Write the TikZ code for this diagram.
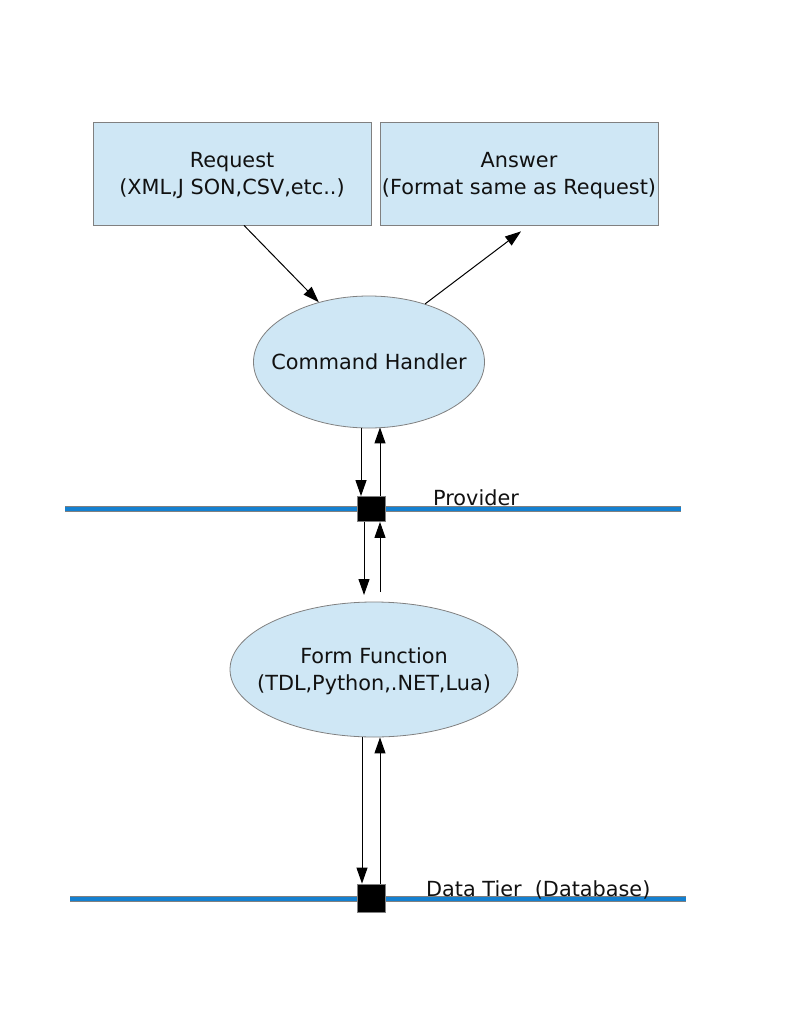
\documentclass[tikz,border=0pt]{standalone}
\usepackage{fontspec}
\setmainfont{DejaVu Sans}
\usetikzlibrary{shapes.geometric,arrows.meta}
\definecolor{boxfill}{HTML}{CFE7F5}
\definecolor{boxline}{HTML}{808080}
\definecolor{busblue}{HTML}{1480D0}
\definecolor{txt}{HTML}{111111}
\tikzset{
  rectbox/.style={draw=boxline, fill=boxfill, line width=0.8pt, minimum width=278pt, minimum height=103pt, inner sep=0pt},
  ellbox/.style={ellipse, draw=boxline, fill=boxfill, line width=0.8pt, inner sep=0pt},
  ctext/.style={text=txt, align=center, inner sep=0pt},
  arr/.style={line width=1pt, -{Triangle[length=16pt,width=11pt]}},
  busout/.style={line width=5.5pt, draw=boxline},
  busin/.style={line width=3.6pt, draw=busblue},
  sqbox/.style={draw=boxline, fill=black, line width=0.8pt, minimum width=28pt, inner sep=0pt},
  lbl/.style={text=txt, inner sep=0pt}
}
\begin{document}
\begin{tikzpicture}[x=1pt,y=-1pt]
\useasboundingbox (0,0) rectangle (800,1035);
\fontsize{20.8}{27}\selectfont
% boxes
\node[rectbox, label={[ctext, yshift=-2pt]center:Request\\(XML,J SON,CSV,etc..)}] (req) at (232,173.5) {};
\node[rectbox, label={[ctext, yshift=-2pt]center:Answer\\(Format same as Request)}] (ans) at (519,173.5) {};
\node[ellbox, minimum width=231pt, minimum height=132pt,
  label={[ctext]center:Command Handler}] (ch) at (369,362) {};
\node[ellbox, minimum width=288pt, minimum height=135pt,
  label={[ctext, yshift=-2pt]center:Form Function\\(TDL,Python,.NET,Lua)}] (ff) at (374,669.5) {};
% buses
\coordinate (p1) at (65,509);
\coordinate (p2) at (681,509);
\coordinate (d1) at (70,899);
\coordinate (d2) at (686,899);
\draw[busout] (p1) -- (p2);
\draw[busin] (p1) -- (p2);
\draw[busout] (d1) -- (d2);
\draw[busin] (d1) -- (d2);
\node[sqbox, minimum height=25pt] (sq1) at (371,509) {};
\node[sqbox, minimum height=28pt] (sq2) at (371,898) {};
\node[lbl, anchor=base west] (prov) at (433,505) {Provider};
\node[lbl, anchor=base west] (dt) at (426,896) {Data Tier\ \ (Database)};
% arrows top
\draw[arr] ([xshift=12pt]req.south) -- (ch.130.6);
\draw[arr] (ch.46.4) -- ([shift={(2pt,-6pt)}]ans.south);
% command handler <-> provider
\draw[arr] ([xshift=-8pt]ch.south) -- ([xshift=-8pt]ch.south |- sq1.north);
\draw[arr] ([xshift=9pt]sq1.north) -- ([xshift=9pt,yshift=1pt]sq1.north |- ch.south);
% provider <-> form function
\coordinate (fa) at (364,595);
\coordinate (fb) at (380,592);
\draw[arr] (sq1.south -| fa) -- (fa);
\draw[arr] (fb) -- (fb |- sq1.south);
% form function <-> data tier
\draw[arr] ([xshift=-12pt]ff.south) -- ([xshift=-12pt]ff.south |- sq2.north);
\draw[arr] ([xshift=9pt]sq2.north) -- ([xshift=9pt]sq2.north |- ff.south);
\end{tikzpicture}
\end{document}
